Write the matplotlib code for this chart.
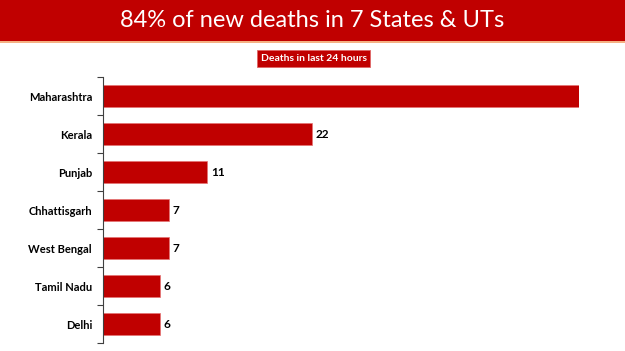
import matplotlib
matplotlib.use("Agg")
import matplotlib.pyplot as plt
from matplotlib.patches import Rectangle
from matplotlib.ticker import FixedLocator, NullLocator

states = ["Maharashtra", "Kerala", "Punjab", "Chhattisgarh", "West Bengal", "Tamil Nadu", "Delhi"]
deaths = [50, 22, 11, 7, 7, 6, 6]
show_label = [False, True, True, True, True, True, True]
title = "84% of new deaths in 7 States & UTs"
subtitle = "Deaths in last 24 hours"

RED = "#C00000"
W, H = 625, 351
fig = plt.figure(figsize=(W / 100, H / 100), dpi=100)
fig.patch.set_facecolor("white")

# header band
fig.patches.append(Rectangle((0, 1 - 41 / H), 1, 41 / H, transform=fig.transFigure,
                             facecolor=RED, edgecolor="none", zorder=0))
fig.patches.append(Rectangle((0, 1 - 43 / H), 1, 2 / H, transform=fig.transFigure,
                             facecolor="#F4B183", edgecolor="none", zorder=0))
fig.text(0.5, 1 - 20.5 / H, title, color="white", fontsize=17, family="Lato",
         ha="center", va="center")
fig.text(313.5 / W, 1 - 58.5 / H, subtitle, color="white", fontsize=7.5, family="Lato",
         fontweight="bold", ha="center", va="center",
         bbox=dict(boxstyle="square,pad=0.35", facecolor=RED, edgecolor="#E06666", linewidth=0.6))

ax = fig.add_axes([102.5 / W, 1 - 343 / H, (579 - 102.5) / W, (343 - 77) / H])
y = list(range(len(states)))
ax.barh(y, deaths, height=0.56, color=RED, edgecolor="#E57373", linewidth=0.5)
ax.set_xlim(0, 50)
ax.set_ylim(len(states) - 0.5, -0.5)
ax.set_yticks(y)
ax.set_yticklabels(states, fontsize=8, family="Lato", fontweight="bold")
ax.tick_params(axis="y", which="major", length=0, pad=7.5)
ax.yaxis.set_minor_locator(FixedLocator([i - 0.5 for i in range(len(states) + 1)]))
ax.tick_params(axis="y", which="minor", length=4, width=0.8, color="#404040", direction="out")
ax.xaxis.set_major_locator(NullLocator())
for s in ["top", "right", "bottom"]:
    ax.spines[s].set_visible(False)
ax.spines["left"].set_color("#404040")
ax.spines["left"].set_linewidth(0.8)
ax.set_facecolor("none")

for yi, v, sl in zip(y, deaths, show_label):
    if sl:
        ax.annotate(str(v), (v, yi), xytext=(2.5, 0), textcoords="offset points",
                    ha="left", va="center", fontsize=8.5, family="Lato", fontweight="bold")

fig.savefig("out.png", dpi=100)
